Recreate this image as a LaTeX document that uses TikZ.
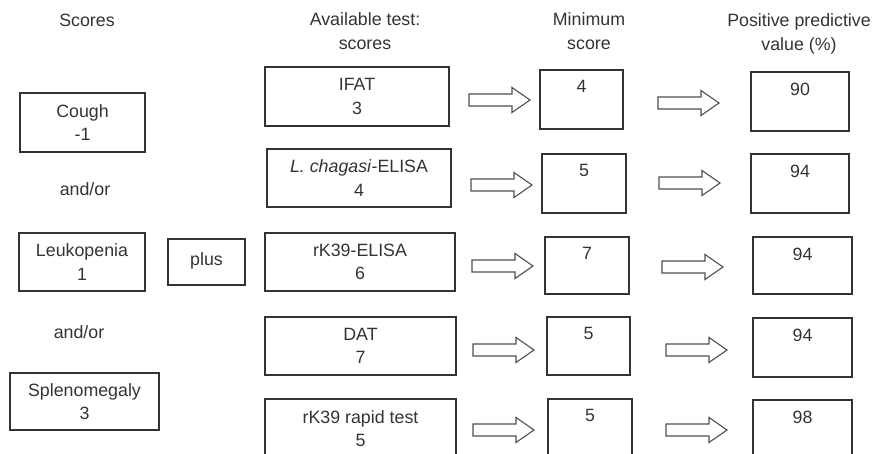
\documentclass[tikz,border=0pt]{standalone}
\usepackage{fontspec}
\setmainfont{Liberation Sans}
\begin{document}
\begin{tikzpicture}[x=1pt,y=-1pt,
  every node/.style={text=ink, font=\fontsize{17.8}{23.5}\selectfont},
  box/.style={draw=ink, line width=1.2pt, rectangle, align=center, inner sep=0pt},
  numbox/.style={draw=ink, line width=1.2pt, rectangle, inner sep=0pt},
  lbl/.style={anchor=north, yshift=-8pt, inner sep=3pt},
  head/.style={align=center, inner sep=0pt},
  blockarrow/.pic={\draw[draw=arr, line width=1.1pt, line join=miter]
     (0,-6) -- (43,-6) -- (43,-12.5) -- (61,0) -- (43,12.5) -- (43,6) -- (0,6) -- cycle;}
]
\definecolor{ink}{HTML}{333333}
\definecolor{arr}{HTML}{505050}
\useasboundingbox (0,0) rectangle (872,454);
\clip (0,0) rectangle (872,454);

% headers
\node[head] (hscores) at (87,20) {Scores};
\node[head] (htest) at (365,31) {Available test:\\scores};
\node[head] (hmin) at (589,31) {Minimum\\score};
\node[head] (hppv) at (799,34) {Positive predictive\\value (\%)};

% scores column
\node[box, minimum width=125pt, minimum height=59pt] (cough) at (82.5,122.5) {Cough\\-1};
\node[head] (andor1) at (85,189) {and/or};
\node[box, minimum width=126pt, minimum height=58pt] (leuko) at (82,262) {Leukopenia\\1};
\node[head] (andor2) at (79,332) {and/or};
\node[box, minimum width=149pt, minimum height=57pt] (spleno) at (84.5,401.5) {Splenomegaly\\3};
\node[box, minimum width=77pt, minimum height=46pt, text depth=6pt] (plus) at (206.5,262) {plus};

% tests column
\node[box, minimum width=184pt, minimum height=59pt] (ifat) at (357,96.5) {IFAT\\3};
\node[box, minimum width=184pt, minimum height=58pt] (lch) at (359,178) {\textit{L. chagasi}-ELISA\\4};
\node[box, minimum width=190pt, minimum height=58pt] (rkel) at (360,262) {rK39-ELISA\\6};
\node[box, minimum width=191pt, minimum height=58pt] (dat) at (360.5,346) {DAT\\7};
\node[box, minimum width=191pt, minimum height=59pt] (rkrt) at (360.5,428.5) {rK39 rapid test\\5};

% minimum score column
\node[numbox, minimum width=83pt, minimum height=59pt, label={[lbl]north:4}] (m1) at (581.5,99.5) {};
\node[numbox, minimum width=84pt, minimum height=59pt, label={[lbl]north:5}] (m2) at (584,183.5) {};
\node[numbox, minimum width=84pt, minimum height=57pt, label={[lbl]north:7}] (m3) at (587,265.5) {};
\node[numbox, minimum width=83pt, minimum height=58pt, label={[lbl]north:5}] (m4) at (588.5,346) {};
\node[numbox, minimum width=84pt, minimum height=59pt, label={[lbl]north:5}] (m5) at (590,428.5) {};

% PPV column
\node[numbox, minimum width=98pt, minimum height=59pt, label={[lbl]north:90}] (p1) at (800,101.5) {};
\node[numbox, minimum width=98pt, minimum height=59pt, label={[lbl]north:94}] (p2) at (800,183.5) {};
\node[numbox, minimum width=99pt, minimum height=57pt, label={[lbl]north:94}] (p3) at (802.5,265.5) {};
\node[numbox, minimum width=99pt, minimum height=59pt, label={[lbl]north:94}] (p4) at (802.5,347.5) {};
\node[numbox, minimum width=99pt, minimum height=59pt, label={[lbl]north:98}] (p5) at (802.5,429.5) {};

% block arrows
\pic at (469,100) {blockarrow};
\pic at (471,185) {blockarrow};
\pic at (472,266) {blockarrow};
\pic at (473,350) {blockarrow};
\pic at (473,430) {blockarrow};
\pic at (658,103) {blockarrow};
\pic at (659,183) {blockarrow};
\pic at (662,267) {blockarrow};
\pic at (666,350) {blockarrow};
\pic at (666,430) {blockarrow};
\end{tikzpicture}
\end{document}
